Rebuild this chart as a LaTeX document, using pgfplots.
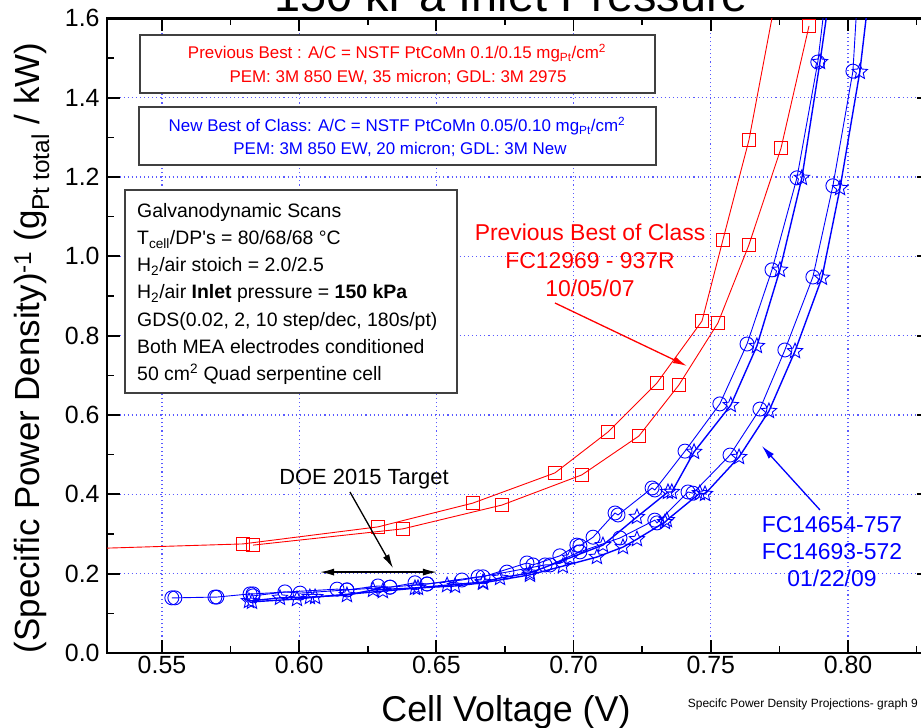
\documentclass[border=0pt]{standalone}
\usepackage{pgfplots}
\pgfplotsset{compat=1.18}
\usepackage{fontspec}
\setmainfont{Liberation Sans}
\usetikzlibrary{arrows.meta}
\definecolor{myred}{RGB}{255,0,0}
\definecolor{myblue}{RGB}{0,0,255}
\definecolor{gridblue}{RGB}{90,90,255}
\pgfdeclareplotmark{ostar}{%
  \pgfpathmoveto{\pgfpointpolar{90}{\pgfplotmarksize}}%
  \pgfpathlineto{\pgfpointpolar{126}{0.45\pgfplotmarksize}}%
  \pgfpathlineto{\pgfpointpolar{162}{\pgfplotmarksize}}%
  \pgfpathlineto{\pgfpointpolar{198}{0.45\pgfplotmarksize}}%
  \pgfpathlineto{\pgfpointpolar{234}{\pgfplotmarksize}}%
  \pgfpathlineto{\pgfpointpolar{270}{0.45\pgfplotmarksize}}%
  \pgfpathlineto{\pgfpointpolar{306}{\pgfplotmarksize}}%
  \pgfpathlineto{\pgfpointpolar{342}{0.45\pgfplotmarksize}}%
  \pgfpathlineto{\pgfpointpolar{18}{\pgfplotmarksize}}%
  \pgfpathlineto{\pgfpointpolar{54}{0.45\pgfplotmarksize}}%
  \pgfpathclose
  \pgfusepathqstroke
}
\begin{document}
\begin{tikzpicture}
\begin{axis}[
  scale only axis, width=823.2bp, height=634.6bp,
  xmin=0.53, xmax=0.83, ymin=0, ymax=1.6,
  xtick={0.55,0.60,0.65,0.70,0.75,0.80},
  minor xtick={0.575,0.625,0.675,0.725,0.775,0.825},
  ytick={0,0.2,0.4,0.6,0.8,1.0,1.2,1.4,1.6},
  minor ytick={0.1,0.3,0.5,0.7,0.9,1.1,1.3,1.5},
  tick align=inside,
  major tick length=13bp, minor tick length=7bp,
  every major tick/.style={black, line width=1.8bp},
  every minor tick/.style={black, line width=1.5bp},
  axis line style={black, line width=2.6bp},
  grid=major,
  major grid style={gridblue, line width=1.1bp, dash pattern=on 1.1bp off 3bp},
  tick label style={font=\fontsize{25}{25}\selectfont},
  /pgf/number format/assume math mode=true,
  xticklabel style={/pgf/number format/.cd, fixed, fixed zerofill, precision=2},
  yticklabel style={xshift=-4bp, /pgf/number format/.cd, fixed, fixed zerofill, precision=1},
  clip mode=individual,
]
% Previous best (red)
\addplot[myred, line width=0.9bp, mark=square, mark size=6.3bp, mark options={solid, line width=1.1bp}] table {
0.500 0.258
0.5795 0.275
0.6287 0.318
0.6633 0.378
0.6932 0.454
0.7125 0.557
0.7304 0.681
0.7468 0.837
0.7544 1.041
0.7639 1.293
0.7723 1.601
};
\addplot[myred, line width=0.9bp, mark=square, mark size=6.3bp, mark options={solid, line width=1.1bp}] table {
0.5832 0.272
0.6378 0.313
0.6739 0.373
0.7030 0.449
0.7238 0.547
0.7384 0.676
0.7526 0.832
0.7639 1.029
0.7756 1.273
0.7858 1.581
};
% New best (blue) circles
\addplot[myblue, line width=0.9bp, mark=o, mark size=7bp, mark options={solid, line width=0.9bp}] table {
0.5536 0.139
0.5547 0.139
0.5693 0.141
0.5700 0.141
0.5821 0.149
0.5832 0.149
0.6138 0.161
0.6174 0.159
0.6287 0.169
0.6331 0.166
0.6422 0.177
0.6466 0.174
0.6652 0.192
0.6670 0.192
0.6830 0.227
0.6852 0.222
0.6950 0.245
0.7012 0.272
0.7023 0.270
0.7071 0.292
0.7151 0.353
0.7162 0.348
0.7286 0.416
0.7296 0.411
0.7406 0.509
0.7533 0.628
0.7632 0.779
0.7723 0.966
0.7814 1.198
0.7890 1.490
0.7978 2.000
};
\addplot[myblue, line width=0.9bp, mark=o, mark size=7bp, mark options={solid, line width=0.9bp}] table {
0.5832 0.144
0.5948 0.154
0.6003 0.151
0.6174 0.159
0.6331 0.166
0.6466 0.174
0.6593 0.184
0.6757 0.204
0.6896 0.222
0.6914 0.222
0.7023 0.255
0.7169 0.290
0.7296 0.335
0.7304 0.328
0.7417 0.406
0.7435 0.403
0.7570 0.499
0.7679 0.615
0.7770 0.764
0.7872 0.948
0.7945 1.178
0.8018 1.467
0.8064 2.000
};
% stars
\addplot[myblue, line width=1.4bp, mark=ostar, mark size=8bp, mark options={solid, line width=0.9bp}] table {
0.5817 0.131
0.5930 0.139
0.6039 0.141
0.6174 0.146
0.6269 0.159
0.6422 0.164
0.6539 0.171
0.6670 0.179
0.6732 0.189
0.6841 0.202
0.6987 0.240
0.7107 0.272
0.7231 0.343
0.7344 0.406
0.7358 0.406
0.7439 0.507
0.7573 0.625
0.7668 0.774
0.7752 0.966
0.7832 1.198
0.7898 1.490
0.8003 2.000
};
\addplot[myblue, line width=1.4bp, mark=ostar, mark size=8bp, mark options={solid, line width=0.9bp}] table {
0.5828 0.129
0.5992 0.136
0.6058 0.141
0.6305 0.156
0.6433 0.164
0.6568 0.169
0.6670 0.177
0.6841 0.197
0.6961 0.219
0.7085 0.242
0.7180 0.267
0.7231 0.287
0.7333 0.330
0.7340 0.335
0.7460 0.403
0.7479 0.401
0.7603 0.494
0.7712 0.610
0.7807 0.761
0.7905 0.946
0.7971 1.172
0.8043 1.465
0.8134 2.000
};
\coordinate (tl) at (rel axis cs:0,1);
% arrows
\draw[myred, line width=1.3bp, -{Latex[length=14bp,width=7bp]}] (axis cs:0.6932,0.8825) -- (axis cs:0.7413,0.7237);
\draw[myblue, line width=1.3bp, -{Latex[length=14bp,width=7bp]}] (axis cs:0.7898,0.3606) -- (axis cs:0.7686,0.522);
\draw[black, line width=1.3bp, -{Latex[length=14bp,width=7bp]}] (axis cs:0.6185,0.406) -- (axis cs:0.6342,0.214);
\draw[black, line width=1.3bp, {Latex[length=14bp,width=7bp]}-{Latex[length=14bp,width=7bp]}] (axis cs:0.6076,0.204) -- (axis cs:0.6502,0.204);
\end{axis}
\coordinate (O) at ([xshift=-107.1bp,yshift=18.4bp]tl);
\pgfresetboundingbox
\path[use as bounding box] (O) rectangle ([xshift=921bp,yshift=-728bp]O);
% title
\node[anchor=base, font=\fontsize{47}{50}\selectfont, inner sep=0pt] at ([xshift=511bp,yshift=-12bp]O) {150 kPa Inlet Pressure};
% axis labels
\node[anchor=base, font=\fontsize{36}{40}\selectfont, inner sep=0pt] at ([xshift=506bp,yshift=-721bp]O) {Cell Voltage (V)};
\node[anchor=base, rotate=90, font=\fontsize{35}{40}\selectfont, inner sep=0pt] at ([xshift=40bp,yshift=-348bp]O) {(Specific Power Density)\textsuperscript{-1} (g\textsubscript{Pt total} / kW)};
\node[anchor=base east, font=\fontsize{12}{14}\selectfont, inner sep=0pt] at ([xshift=918bp,yshift=-707bp]O) {Specifc Power Density Projections- graph 9};
% boxes
\draw[black!75, line width=1.3bp, fill=white] ([xshift=140bp,yshift=-35bp]O) rectangle ([xshift=655bp,yshift=-93bp]O);
\node[anchor=base, myred, font=\fontsize{17}{20}\selectfont, inner sep=0pt] at ([xshift=397bp,yshift=-59bp]O) {Previous Best : A/C = NSTF PtCoMn 0.1/0.15 mg\textsubscript{Pt}/cm\textsuperscript{2}};
\node[anchor=base, myred, font=\fontsize{17}{20}\selectfont, inner sep=0pt] at ([xshift=398bp,yshift=-83bp]O) {PEM: 3M 850 EW, 35 micron; GDL: 3M 2975};
\draw[black!75, line width=1.3bp, fill=white] ([xshift=139bp,yshift=-107bp]O) rectangle ([xshift=656bp,yshift=-165bp]O);
\node[anchor=base, myblue, font=\fontsize{17}{20}\selectfont, inner sep=0pt] at ([xshift=397bp,yshift=-132bp]O) {New Best of Class: A/C = NSTF PtCoMn 0.05/0.10 mg\textsubscript{Pt}/cm\textsuperscript{2}};
\node[anchor=base, myblue, font=\fontsize{17}{20}\selectfont, inner sep=0pt] at ([xshift=400bp,yshift=-155bp]O) {PEM: 3M 850 EW, 20 micron; GDL: 3M New};
\draw[black!75, line width=1.3bp, fill=white] ([xshift=125bp,yshift=-190bp]O) rectangle ([xshift=457bp,yshift=-393bp]O);
\begin{scope}[every node/.style={anchor=base west, font=\fontsize{19.5}{22}\selectfont, inner sep=0pt}]
\node at ([xshift=137bp,yshift=-218bp]O) {Galvanodynamic Scans};
\node at ([xshift=137bp,yshift=-245bp]O) {T\textsubscript{cell}/DP\textquotesingle s = 80/68/68 °C};
\node at ([xshift=137bp,yshift=-272bp]O) {H\textsubscript{2}/air stoich = 2.0/2.5};
\node at ([xshift=137bp,yshift=-299bp]O) {H\textsubscript{2}/air \textbf{Inlet} pressure = \textbf{150 kPa}};
\node at ([xshift=137bp,yshift=-327bp]O) {GDS(0.02, 2, 10 step/dec, 180s/pt)};
\node at ([xshift=137bp,yshift=-354bp]O) {Both MEA electrodes conditioned};
\node at ([xshift=137bp,yshift=-381bp]O) {50 cm\textsuperscript{2} Quad serpentine cell};
\end{scope}
% annotations
\node[align=center, myred, font=\fontsize{23}{28.5}\selectfont, anchor=base, inner sep=0pt] at ([xshift=590bp,yshift=-297bp]O) {Previous Best of Class\\FC12969 - 937R\\10/05/07};
\node[align=center, myblue, font=\fontsize{23}{27.5}\selectfont, anchor=base, inner sep=0pt] at ([xshift=832bp,yshift=-587bp]O) {FC14654-757\\FC14693-572\\01/22/09};
\node[anchor=base, font=\fontsize{22}{24}\selectfont, inner sep=0pt] at ([xshift=364bp,yshift=-485bp]O) {DOE 2015 Target};
\end{tikzpicture}
\end{document}
